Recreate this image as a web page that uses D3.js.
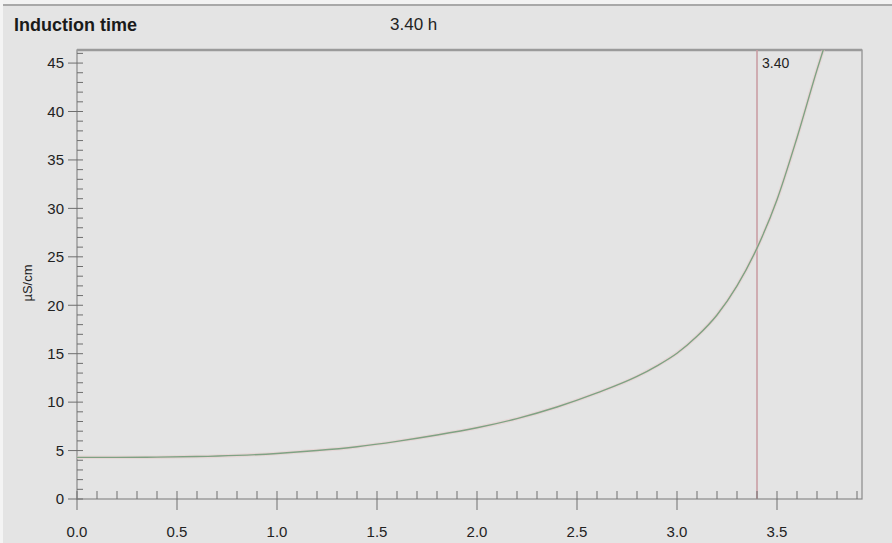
<!DOCTYPE html>
<html>
<head>
<meta charset="utf-8">
<script src="https://cdn.jsdelivr.net/npm/d3@7"></script>
<style>
  html, body { margin: 0; padding: 0; background: #e4e4e4; }
  svg { display: block; font-family: "Liberation Sans", Arial, sans-serif; }
</style>
</head>
<body>
<svg width="892" height="543"></svg>
<script>
// conductivity curve (hours, µS/cm)
var hours = [0.0, 0.2, 0.4, 0.6, 0.8, 1.0, 1.2, 1.4, 1.6, 1.8, 2.0, 2.2, 2.4, 2.6, 2.8, 2.9, 3.0, 3.1, 3.2, 3.3, 3.4, 3.5, 3.6, 3.7, 3.75];
var conductivity = [4.3, 4.3, 4.32, 4.38, 4.5, 4.7, 5.0, 5.4, 5.95, 6.6, 7.35, 8.3, 9.5, 10.95, 12.65, 13.75, 15.05, 16.8, 19.0, 22.0, 25.9, 30.9, 37.3, 44.3, 47.6];
var xTicks = [0.0, 0.5, 1.0, 1.5, 2.0, 2.5, 3.0, 3.5];
var yTicks = [0, 5, 10, 15, 20, 25, 30, 35, 40, 45];
var inductionTime = 3.40;

var svg = d3.select("svg"),
    width = +svg.attr("width"),
    height = +svg.attr("height");

var pLeft = 77, pRight = 862, pTop = 50, pBottom = 499;

var x = d3.scaleLinear().domain([0, 3.925]).range([pLeft, pRight]);
var y = d3.scaleLinear().domain([0, 46.35]).range([pBottom, pTop]);

// top strip
svg.append("rect").attr("x", 0).attr("y", 0).attr("width", width).attr("height", 4).attr("fill", "#f2f2f2");
svg.append("line").attr("x1", 0).attr("x2", width).attr("y1", 5).attr("y2", 5)
    .attr("stroke", "#a8a8a8").attr("stroke-width", 2);
svg.append("rect").attr("x", 0).attr("y", 0).attr("width", 3).attr("height", height).attr("fill", "#f4f4f4");

svg.append("text").attr("x", 14).attr("y", 31)
    .attr("font-size", 18).attr("font-weight", "bold").attr("fill", "#1a1a1a")
    .text("Induction time");
svg.append("text").attr("x", 390).attr("y", 30)
    .attr("font-size", 17).attr("fill", "#222")
    .text(d3.format(".2f")(inductionTime) + " h");

// plot frame
svg.append("rect").attr("x", pLeft).attr("y", pTop).attr("width", pRight - pLeft).attr("height", pBottom - pTop)
    .attr("fill", "none").attr("stroke", "#8a8a8a").attr("stroke-width", 1.2);
svg.append("line").attr("x1", pLeft).attr("x2", pRight).attr("y1", pTop).attr("y2", pTop)
    .attr("stroke", "#9a9a9a").attr("stroke-width", 2.5);

svg.append("defs").append("clipPath").attr("id", "plot-clip")
  .append("rect").attr("x", pLeft).attr("y", pTop).attr("width", pRight - pLeft).attr("height", pBottom - pTop);

// induction marker
svg.append("line")
    .attr("x1", x(inductionTime)).attr("x2", x(inductionTime))
    .attr("y1", pTop).attr("y2", pBottom)
    .attr("stroke", "#c99aa0").attr("stroke-width", 1.5);
svg.append("text").attr("x", x(inductionTime) + 5).attr("y", pTop + 18)
    .attr("font-size", 14).attr("fill", "#222")
    .text(d3.format(".2f")(inductionTime));

// curve
var line = d3.line()
    .x(function(d, i) { return x(hours[i]); })
    .y(function(d) { return y(d); })
    .curve(d3.curveMonotoneX);

svg.append("path")
    .datum(conductivity)
    .attr("clip-path", "url(#plot-clip)")
    .attr("fill", "none")
    .attr("stroke", "#e8c8c8").attr("stroke-width", 3.5).attr("opacity", 0.5)
    .attr("d", line);
svg.append("path")
    .datum(conductivity)
    .attr("clip-path", "url(#plot-clip)")
    .attr("fill", "none")
    .attr("stroke", "#7fa283").attr("stroke-width", 1.4)
    .attr("d", line);

// x axis: minor ticks inside, major ticks crossing
var xMinor = d3.range(0, 40).map(function(i) { return i / 10; }).filter(function(v) { return v <= 3.925 && Math.round(v * 10) % 5 !== 0; });
var gx = svg.append("g").attr("stroke", "#6e6e6e");
gx.selectAll(".minor").data(xMinor).enter().append("line")
    .attr("x1", function(d) { return x(d); }).attr("x2", function(d) { return x(d); })
    .attr("y1", pBottom).attr("y2", pBottom - 8);
gx.selectAll(".major").data(xTicks).enter().append("line")
    .attr("x1", function(d) { return x(d); }).attr("x2", function(d) { return x(d); })
    .attr("y1", pBottom - 8).attr("y2", pBottom + 11);
svg.append("g").selectAll("text").data(xTicks).enter().append("text")
    .attr("x", function(d) { return x(d); }).attr("y", 537)
    .attr("text-anchor", "middle").attr("font-size", 15).attr("fill", "#222")
    .text(d3.format(".1f"));

// y axis
var yMinor = d3.range(0, 47).filter(function(v) { return v % 5 !== 0; });
var gy = svg.append("g").attr("stroke", "#6e6e6e");
gy.selectAll(".minor").data(yMinor).enter().append("line")
    .attr("x1", pLeft).attr("x2", pLeft + 6)
    .attr("y1", function(d) { return y(d); }).attr("y2", function(d) { return y(d); });
gy.selectAll(".major").data(yTicks).enter().append("line")
    .attr("x1", pLeft - 9).attr("x2", pLeft + 6)
    .attr("y1", function(d) { return y(d); }).attr("y2", function(d) { return y(d); });
svg.append("g").selectAll("text").data(yTicks).enter().append("text")
    .attr("x", 64).attr("y", function(d) { return y(d); })
    .attr("dy", "0.35em")
    .attr("text-anchor", "end").attr("font-size", 15).attr("fill", "#222")
    .text(function(d) { return d; });

svg.append("text")
    .attr("transform", "translate(32," + 283 + ") rotate(-90)")
    .attr("text-anchor", "middle").attr("font-size", 13).attr("fill", "#222")
    .text("µS/cm");
</script>
</body>
</html>
